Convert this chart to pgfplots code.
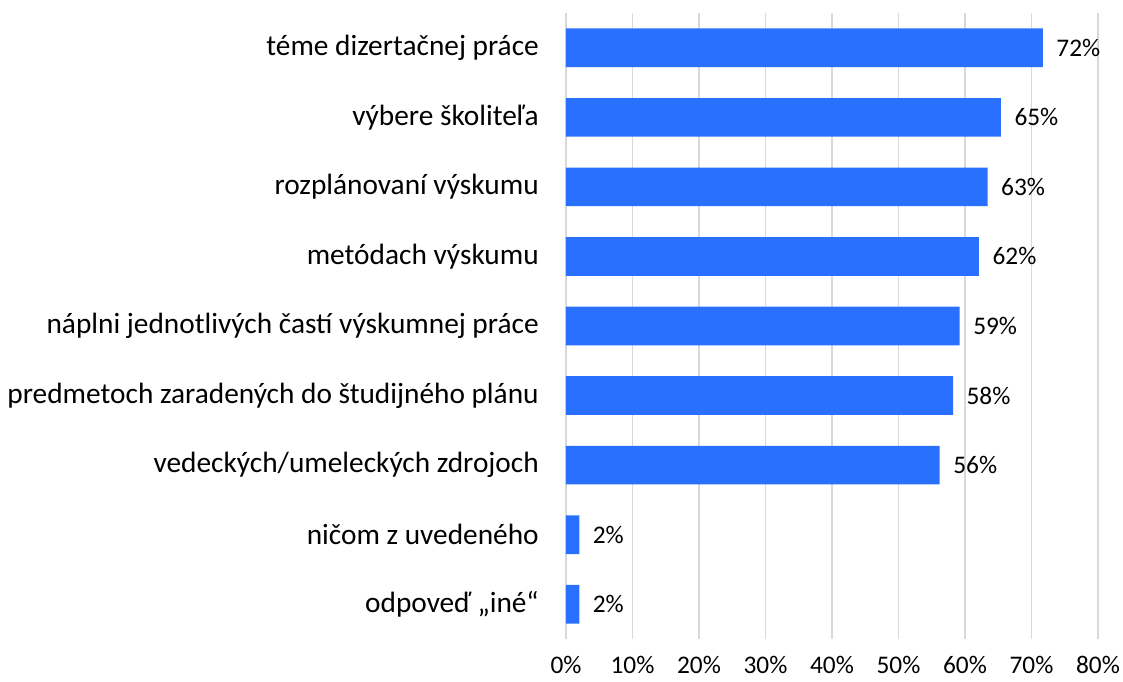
\documentclass[border=0pt]{standalone}
\usepackage{fontspec}
\setmainfont{Carlito}
\usepackage{pgfplots}
\pgfplotsset{compat=1.18}
\definecolor{barblue}{RGB}{41,112,255}
\definecolor{gridgray}{RGB}{217,217,217}
\begin{document}
\fontsize{19}{23}\selectfont
\begin{tikzpicture}
\useasboundingbox (-424.5pt,-31.5pt) rectangle (417.75pt,479.25pt);
\begin{axis}[
  at={(0pt,0pt)}, anchor=south west,
  scale only axis,
  width=399pt, height=469.5pt,
  xbar, bar width=29pt,
  xmin=0, xmax=80,
  ymin=-0.5, ymax=8.5,
  y dir=reverse,
  xtick={0,10,...,80},
  ytick={0,...,8},
  yticklabels={téme dizertačnej práce, výbere školiteľa, rozplánovaní výskumu, metódach výskumu, náplni jednotlivých častí výskumnej práce, predmetoch zaradených do študijného plánu, vedeckých/umeleckých zdrojoch, ničom z uvedeného, {odpoveď „iné“}},
  /pgf/number format/assume math mode=true,
  xticklabel={\pgfmathprintnumber{\tick}\%},
  xmajorgrids, major grid style={gridgray, line width=1pt},
  axis line style={draw=none},
  major tick style={draw=none},
  xticklabel style={font=\fontsize{19}{23}\selectfont, anchor=north, inner ysep=0pt, yshift=-13pt},
  yticklabel style={font=\fontsize{22}{26}\selectfont, anchor=east, inner xsep=0pt, xshift=-16pt},
  point meta=x,
  nodes near coords={\pgfmathprintnumber[fixed,precision=0]{\pgfplotspointmeta}\%},
  nodes near coords style={anchor=west, inner xsep=0pt, xshift=10pt, font=\fontsize{19}{23}\selectfont, text=black},
]
\addplot[fill=barblue, draw=none] coordinates {
  (71.7,0) (65.4,1) (63.4,2) (62.1,3) (59.2,4) (58.2,5) (56.2,6) (2.0,7) (2.0,8)
};
\end{axis}
\end{tikzpicture}
\end{document}
